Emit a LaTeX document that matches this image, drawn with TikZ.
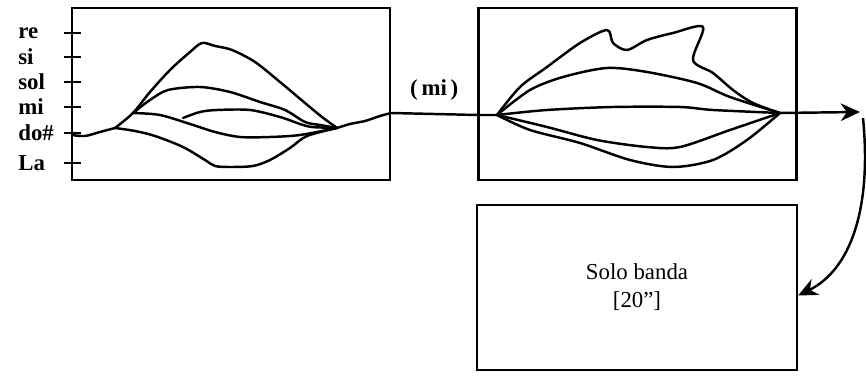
\documentclass[tikz,border=0pt]{standalone}
\usepackage{fontspec}
\setmainfont{Liberation Serif}
\usepackage{tikz}
\usetikzlibrary{arrows.meta, positioning, calc}
\tikzset{
	panel/.style={rectangle, draw=black, line width=1.3pt, minimum width=6.36cm, minimum height=3.44cm, inner sep=0pt},
	panel_low/.style={panel, minimum width=6.4cm, minimum height=3.3cm, align=center, font=\fontsize{13}{16}\selectfont},
	trace/.style={draw=black, line width=1.4pt, line join=round, line cap=round},
	flow/.style={draw=black, line width=1.4pt, -{Stealth[length=11pt, width=10pt]}},
	tick_mark/.style={draw=black, line width=1.3pt},
	pitch_label/.style={anchor=west, inner sep=0pt, font=\bfseries\fontsize{13}{13}\selectfont}
}
\begin{document}
\begin{tikzpicture}[x=0.02cm, y=-0.02cm]
					\useasboundingbox (0,0) rectangle (866,377);
					\node[panel] (box_in) at (231,94) {};
					\node[panel] (box_out) at (637.5,94) {};
					\node[panel_low] (box_solo) at (637,287.5) {Solo banda\\{[}20"{]}};
					% pitch scale
					\foreach \y/\name in {33/re, 57/si, 82/sol, 107/mi, 133/do\#, 163/La} {
						\node[pitch_label] (lab_\y) at (18,\y) {\name};
						\draw[tick_mark] (64,\y) -- (81,\y);
					}
					% first panel
					\coordinate (in_start) at (72,135);
					\coordinate (in_split) at (115,128);
					\coordinate (in_fork) at (133,113);
					\coordinate (in_join) at (337,128);
					\coordinate (in_end) at (box_in.east |- 0,113);
					\draw[trace] plot[smooth] coordinates {(in_start) (85,136) (100,132) (in_split)};
					\draw[trace] plot[smooth] coordinates {(in_split) (in_fork) (150,92) (170,70) (190,52) (202,43) (215,46) (232,50) (255,62) (280,82) (305,103) (322,117) (in_join)};
					\draw[trace] plot[smooth] coordinates {(in_fork) (150,100) (168,90) (200,87) (230,92) (260,102) (285,110) (305,122) (320,125) (in_join)};
					\draw[trace] plot[smooth] coordinates {(in_fork) (160,115) (190,124) (215,132) (240,137) (270,137) (300,135) (in_join)};
					\draw[trace] plot[smooth] coordinates {(183,118) (200,112) (217,110) (250,110) (280,117) (300,124) (312,127) (in_join)};
					\draw[trace] plot[smooth] coordinates {(in_split) (135,131) (155,136) (183,147) (205,160) (215,166) (230,167) (253,166) (270,160) (290,148) (307,136) (in_join)};
					\draw[trace] plot[smooth] coordinates {(in_join) (350,124) (365,121) (380,116) (in_end)};
					% second panel
					\coordinate (out_begin) at (box_out.west |- 0,115);
					\coordinate (out_start) at (497,115);
					\coordinate (out_join) at (780,113);
					\draw[trace] (in_end) -- node[above=4pt, font=\bfseries\fontsize{13}{13}\selectfont] (lab_mi) {(\,mi\,)} (out_begin) -- (out_start);
					\draw[trace] plot[smooth] coordinates {(out_start) (520,87) (547,67) (580,43) (607,30) (613,43) (627,50) (647,40) (673,33) (703,27) (693,60) (713,73) (733,90) (753,103) (out_join)};
					\draw[trace] plot[smooth] coordinates {(out_start) (530,90) (563,77) (607,68) (647,72) (697,83) (730,97) (out_join)};
					\draw[trace] plot[smooth] coordinates {(out_start) (547,110) (613,107) (680,107) (713,110) (out_join)};
					\draw[trace] plot[smooth] coordinates {(out_start) (547,127) (597,140) (647,147) (680,147) (730,130) (out_join)};
					\draw[trace] plot[smooth] coordinates {(out_start) (530,130) (580,143) (630,160) (673,167) (713,160) (747,140) (out_join)};
					% arrows to the solo
					\coordinate (turn) at (860,112);
					\draw[flow] (out_join) -- (turn);
					\draw[flow] ($(turn)+(3,6)$) .. controls (872,210) and (850,270) .. ($(box_solo.east)+(0,8)$);
				\end{tikzpicture}
\end{document}
